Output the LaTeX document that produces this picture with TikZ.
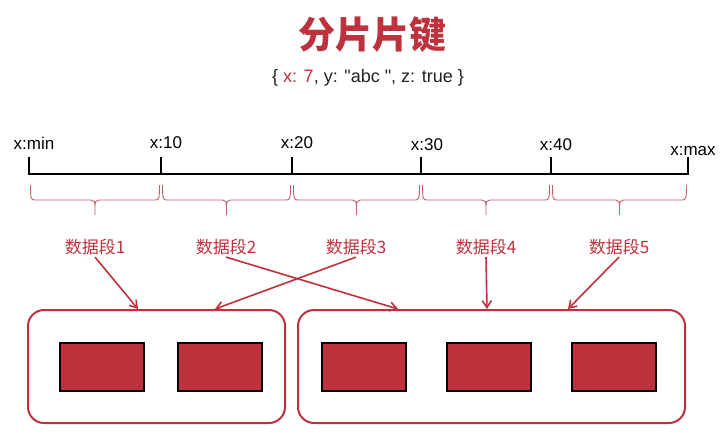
\documentclass[tikz,border=0pt]{standalone}
\usepackage{fontspec}
\setmainfont{Liberation Sans}
\newfontfamily\docfont{Liberation Sans}[Ligatures=TeXOff]
\newfontfamily\cjk{Noto Sans CJK SC}
\usepackage{xcolor}
\usepackage{tikz}
\usetikzlibrary{arrows.meta}

\definecolor{shardred}{RGB}{190, 50, 62}
\definecolor{bracered}{RGB}{190, 95, 105}
\definecolor{docgray}{RGB}{35, 35, 35}

\tikzset{
  ticklabel/.style={font=\fontsize{17}{20}\selectfont, text=black, inner sep=0pt},
  segbrace/.style={color=bracered, line width=0.9pt},
  seglabel/.style={font=\cjk\fontsize{17}{20}\selectfont, text=shardred, inner sep=2pt},
  segarrow/.style={color=shardred, line width=1.6pt, -{Straight Barb[length=7pt, width=9pt]}},
  shardgroup/.style={
    draw=shardred,
    line width=2pt,
    rounded corners=16pt,
    minimum height=113pt,
  },
  chunk/.style={
    draw=black,
    fill=shardred,
    line width=2.4pt,
    minimum width=84pt,
    minimum height=48pt,
  },
}

\begin{document}
\begin{tikzpicture}[x=1pt, y=-1pt]
  \useasboundingbox[fill=white] (0, 0) rectangle (723, 437);

  % title and document
  \node[font=\cjk\bfseries\fontsize{37}{42}\selectfont, text=shardred] (title) at (372, 35) {分片片键};
  \node[font=\docfont\fontsize{18}{21}\selectfont, text=docgray] (doc) at (368, 78)
    {\{ \textcolor{shardred}{x: 7}, y: "abc ", z: true \}};

  % axis with ticks
  \foreach \name/\x in {t0/29, t1/161, t2/292, t3/421, t4/551, t5/688} {
    \coordinate (\name) at (\x, 174);
    \coordinate (\name top) at (\x, 157);
  }
  \draw[line width=2.6pt, line cap=rect] (t0) -- (t5);
  \foreach \name in {t0, t1, t2, t3, t4, t5} {
    \draw[line width=2.6pt] (\name) -- (\name top);
  }
  \node[ticklabel] (lmin) at (34, 143) {x:min};
  \node[ticklabel] (l10) at (166, 143) {x:10};
  \node[ticklabel] (l20) at (297, 143) {x:20};
  \node[ticklabel] (l30) at (427, 145) {x:30};
  \node[ticklabel] (l40) at (556, 145) {x:40};
  \node[ticklabel] (lmax) at (693, 151) {x:max};

  % braces under the segments
  \foreach \a/\b in {29/161, 161/292, 292/421, 421/551, 551/688} {
    \pgfmathsetmacro{\m}{(\a + \b) / 2}
    \draw[segbrace]
      (\a + 1.5, 185) .. controls (\a + 1.5, 199) and (\a + 2, 200) .. (\a + 6, 200)
      -- (\m - 4, 200) .. controls (\m - 1, 200) and (\m, 202) .. (\m, 206) -- (\m, 215)
      (\m, 206) .. controls (\m, 202) and (\m + 1, 200) .. (\m + 4, 200)
      -- (\b - 6, 200) .. controls (\b - 2, 200) and (\b - 1.5, 199) .. (\b - 1.5, 185);
  }

  % segment labels
  \node[seglabel] (seg1) at (95, 247) {数据段1};
  \node[seglabel] (seg2) at (226, 247) {数据段2};
  \node[seglabel] (seg3) at (356, 247) {数据段3};
  \node[seglabel] (seg4) at (486, 247) {数据段4};
  \node[seglabel] (seg5) at (619, 247) {数据段5};

  % shard groups and chunks
  \node[shardgroup, minimum width=257pt] (leftgrp) at (156.5, 366.5) {};
  \node[shardgroup, minimum width=387pt] (rightgrp) at (491.5, 366.5) {};
  \node[chunk] (chunk1) at (102, 367) {};
  \node[chunk] (chunk2) at (220, 367) {};
  \node[chunk] (chunk3) at (364, 367) {};
  \node[chunk] (chunk4) at (489, 367) {};
  \node[chunk] (chunk5) at (614, 367) {};

  % segments go to shards
  \draw[segarrow] (seg1.south) -- ([xshift=-18.5pt]leftgrp.north);
  \draw[segarrow] (seg2.south) -- ([xshift=-93.5pt]rightgrp.north);
  \draw[segarrow] (seg3.south) -- ([xshift=58.5pt]leftgrp.north);
  \draw[segarrow] (seg4.south) -- ([xshift=-4.5pt]rightgrp.north);
  \draw[segarrow] (seg5.south) -- ([xshift=76.5pt]rightgrp.north);
\end{tikzpicture}
\end{document}
